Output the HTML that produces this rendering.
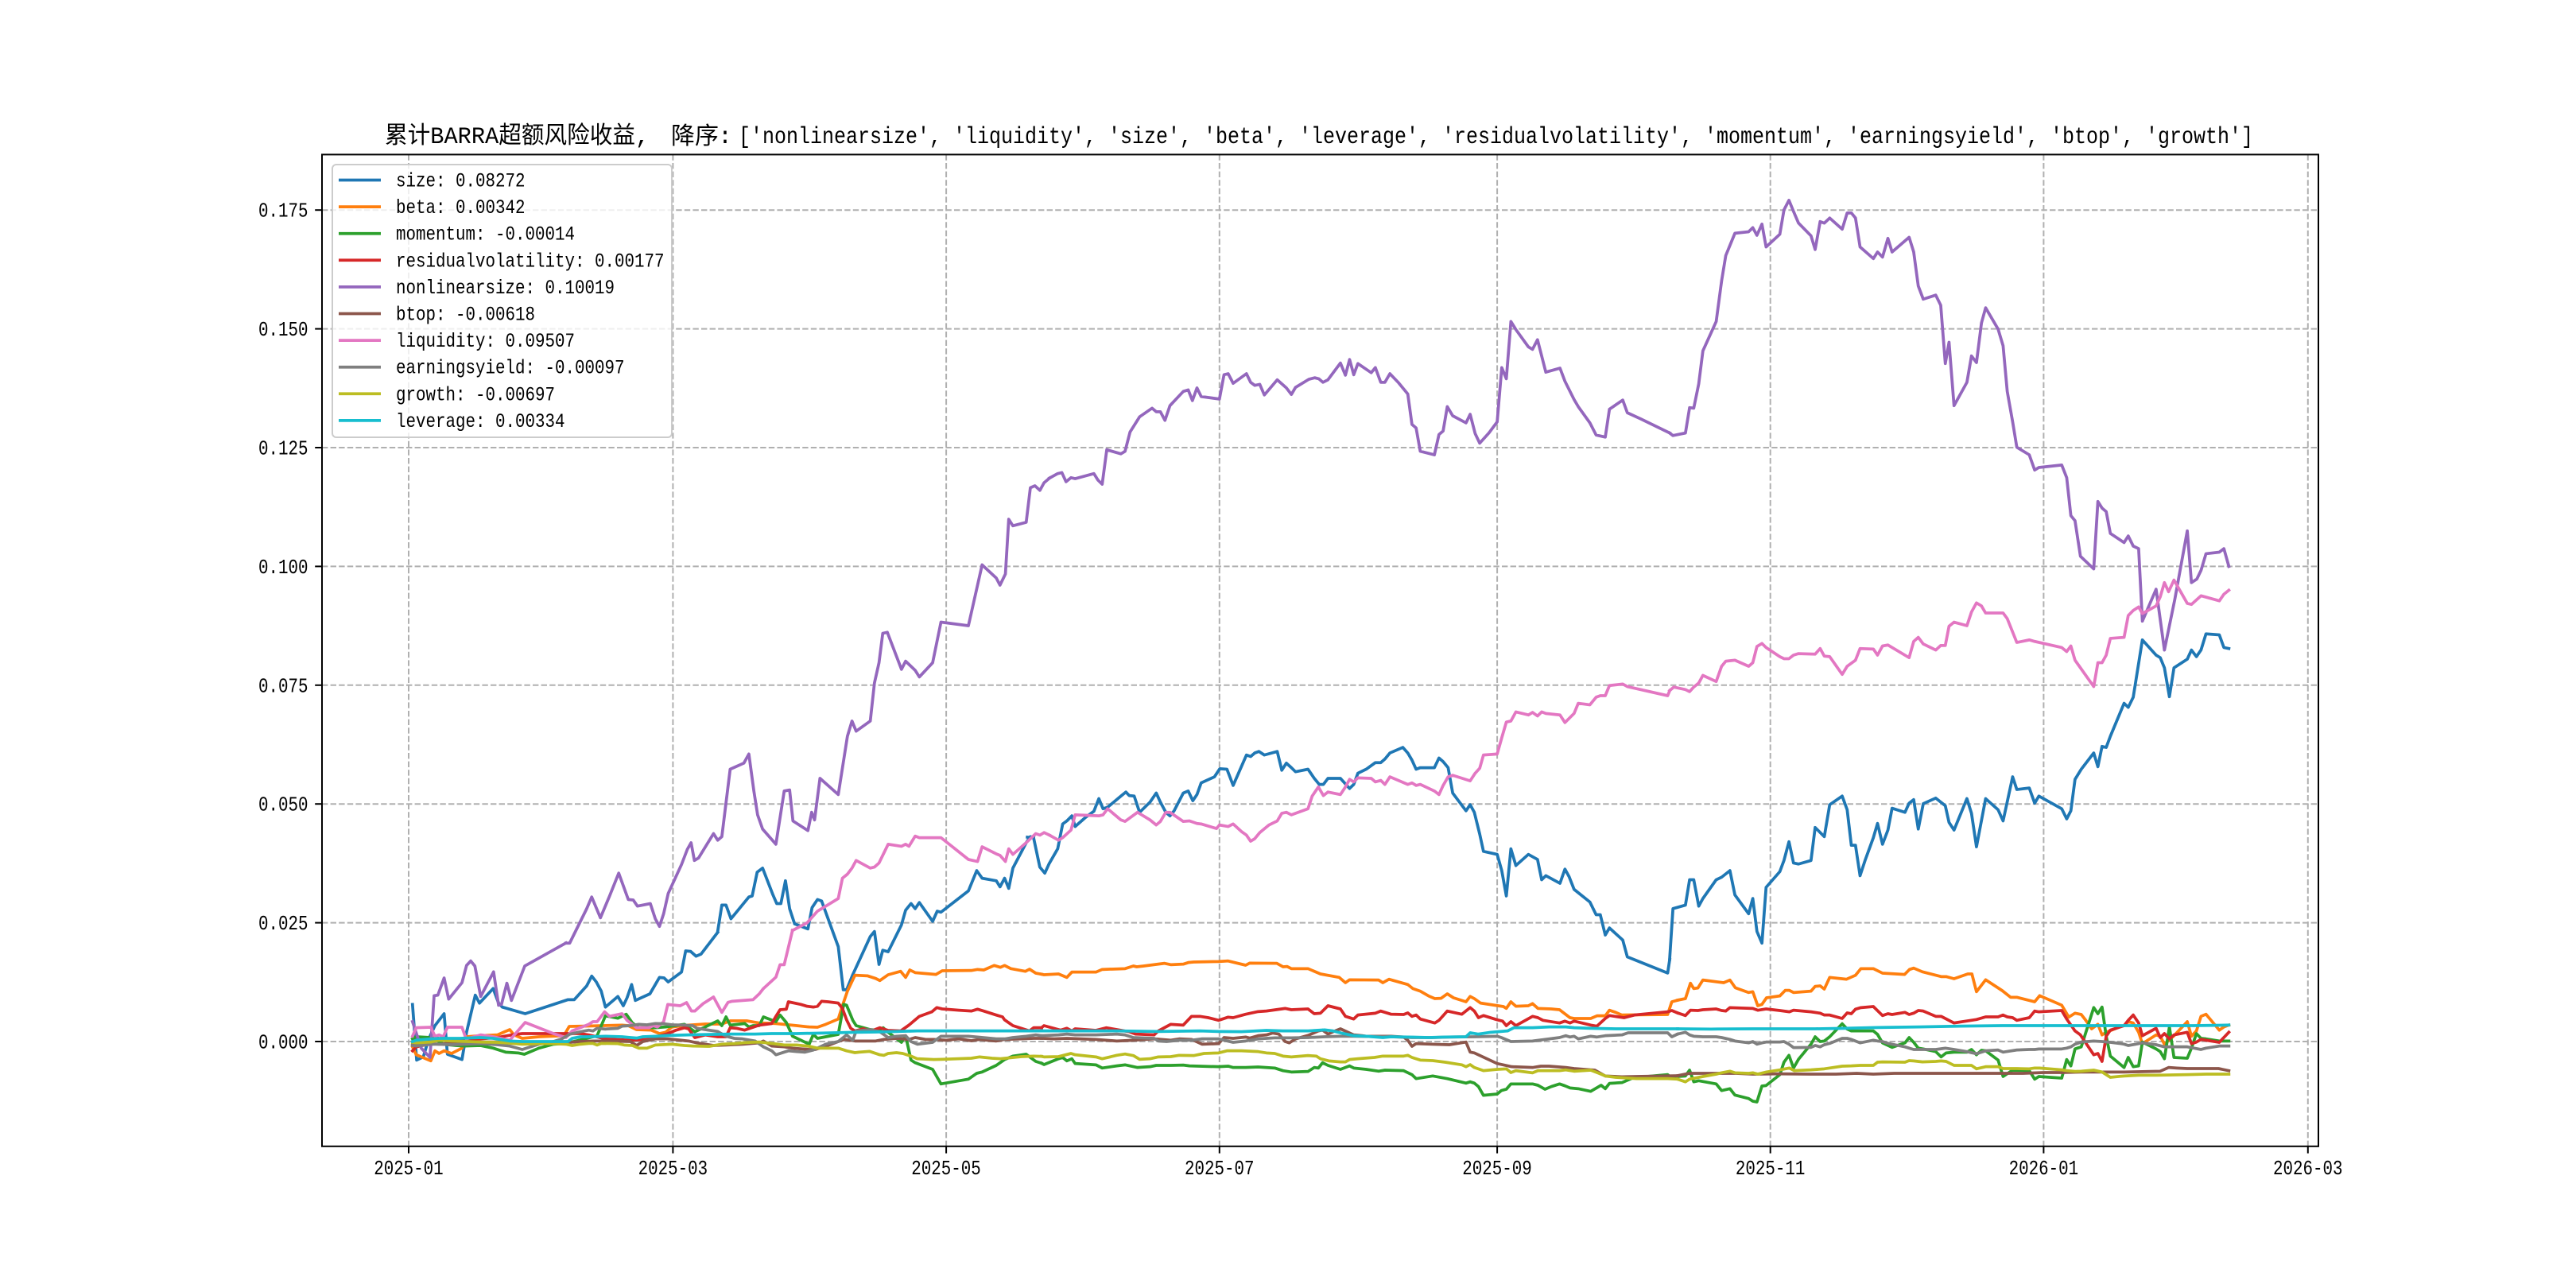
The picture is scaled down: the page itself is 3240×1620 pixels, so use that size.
<!DOCTYPE html>
<html><head><meta charset="utf-8">
<style>
html,body{margin:0;padding:0;background:#fff;}
svg{display:block;}
polyline{fill:none;stroke-width:3.75;vector-effect:non-scaling-stroke;stroke-linejoin:round;stroke-linecap:square;}
.t{font-family:"Liberation Mono","Noto Sans CJK SC",monospace;fill:#000;}
.grid line{stroke:#b0b0b0;stroke-width:2;stroke-dasharray:7.4 3.2;}
</style></head>
<body>
<svg width="3240" height="1620" viewBox="0 0 3240 1620" xmlns="http://www.w3.org/2000/svg">
<rect x="0" y="0" width="3240" height="1620" fill="#fff"/>
<defs><clipPath id="ax"><rect x="405" y="194.4" width="2511" height="1247.4"/></clipPath></defs>

<!-- grid -->
<g class="grid">
<line x1="514" y1="194.4" x2="514" y2="1441.8"/>
<line x1="846.4" y1="194.4" x2="846.4" y2="1441.8"/>
<line x1="1190.1" y1="194.4" x2="1190.1" y2="1441.8"/>
<line x1="1533.8" y1="194.4" x2="1533.8" y2="1441.8"/>
<line x1="1883.1" y1="194.4" x2="1883.1" y2="1441.8"/>
<line x1="2226.7" y1="194.4" x2="2226.7" y2="1441.8"/>
<line x1="2570.4" y1="194.4" x2="2570.4" y2="1441.8"/>
<line x1="2902.8" y1="194.4" x2="2902.8" y2="1441.8"/>
<line x1="405" y1="1310" x2="2916" y2="1310"/>
<line x1="405" y1="1160.6" x2="2916" y2="1160.6"/>
<line x1="405" y1="1011.2" x2="2916" y2="1011.2"/>
<line x1="405" y1="861.8" x2="2916" y2="861.8"/>
<line x1="405" y1="712.4" x2="2916" y2="712.4"/>
<line x1="405" y1="563" x2="2916" y2="563"/>
<line x1="405" y1="413.6" x2="2916" y2="413.6"/>
<line x1="405" y1="264.2" x2="2916" y2="264.2"/>
</g>

<g clip-path="url(#ax)">
<!-- size (blue) -->
<g stroke="#1f77b4">
<polyline transform="matrix(0.52296 0 0 0.33333 500 1150)" points="36,340 46,550 62,538 75,470 90,420 112,375 120,528 155,548 166,445 187,305 197,335 230,280 243,335 252,350 307,375 410,322 425,322 455,270 467,233 478,255 490,290 500,350 530,310 543,345 552,315 563,265 572,325 607,300 630,238 641,240 651,255 683,218 693,138 705,140 718,158 730,150 770,68"/>
<polyline transform="matrix(0.52296 0 0 0.63776 500 250)" points="770,1445 780,1393 790,1393 802,1420 835,1387 845,1377 853,1375 865,1328 878,1320 903,1373 912,1390 922,1390 933,1345 943,1400 955,1430 987,1440 997,1398 1010,1382 1020,1385 1060,1475 1072,1560 1080,1560 1095,1530 1137,1455 1147,1445 1158,1510 1167,1482 1180,1485 1212,1432 1222,1403 1235,1390 1245,1400 1255,1388 1287,1425 1298,1405 1307,1407 1373,1365 1393,1325 1406,1340 1440,1345 1449,1357 1460,1340 1470,1360 1480,1320 1512,1270 1522,1258 1530,1259"/>
<polyline transform="matrix(0.52296 0 0 0.63776 1300 250)" points="-15,1259 0,1260 15,1318 27,1330 37,1312 58,1282 70,1233 80,1227 92,1217 100,1238 125,1220 145,1208 157,1183 167,1203 178,1200 210,1178 222,1170 230,1177 242,1178 255,1210 280,1190 295,1172 305,1190 318,1210 328,1217 338,1207 360,1172 372,1168 383,1187 393,1175 403,1152 435,1140 448,1124 465,1125 480,1157 512,1097 522,1100 532,1093 542,1090 555,1097 586,1090 597,1127 608,1113 620,1122 630,1130 660,1125 675,1143 687,1155 697,1155 708,1143 738,1143 760,1163 770,1155 780,1133 800,1125 822,1112 835,1112 845,1105 857,1093 888,1082 900,1093 910,1107 920,1125 930,1122 964,1122 975,1103 985,1110 997,1122 1008,1172 1040,1207 1050,1195 1060,1210 1073,1253 1082,1287 1115,1293 1126,1325 1137,1375 1148,1282 1160,1315 1190,1293 1212,1303 1222,1343 1232,1335 1266,1350 1278,1322 1288,1337 1300,1362 1338,1387 1353,1412 1363,1412 1375,1452 1385,1438 1417,1462 1428,1495 1525,1527 1530,1500"/>
<polyline transform="matrix(0.52296 0 0 0.63776 2100 250)" points="0,1500 8,1400 38,1393 48,1343 58,1343 70,1395 80,1380 112,1343 125,1338 145,1325 157,1373 190,1410 200,1380 210,1445 222,1468 232,1358 265,1327 275,1305 287,1268 298,1310 310,1312 340,1305 350,1240 372,1258 385,1195 415,1178 427,1205 437,1275 447,1275 458,1335 470,1305 490,1260 500,1232 512,1273 525,1245 535,1202 566,1210 576,1192 587,1185 598,1243 610,1193 640,1182 663,1197 672,1230 684,1245 715,1183 726,1212 738,1278 760,1183 790,1205 802,1227 825,1140 835,1165 865,1162 878,1192 888,1178 943,1203 955,1223 965,1207 975,1145 990,1125 1020,1093 1030,1120 1040,1080 1050,1082 1060,1060 1093,995 1103,1003 1115,983 1137,870 1170,900 1180,905 1190,925 1202,982 1213,925 1245,908 1255,890 1267,903 1278,890 1290,858 1322,860 1333,885 1345,887"/>
</g>
<!-- beta (orange) -->
<g stroke="#ff7f0e">
<polyline transform="matrix(0.52296 0 0 0.33333 500 1150)" points="36,500 45,530 80,553 90,515 100,525 112,515 130,525 155,505 166,462 200,458 240,455 270,435 280,455 300,468 340,462 400,458 413,423 450,422 540,418 555,420 575,435 610,437 630,450 645,445 660,425 700,418 740,414 780,414 800,402 840,402 870,410 910,412 960,420 990,425 1010,426 1030,415 1060,395 1070,345 1082,290 1100,230 1130,232 1150,242 1160,250 1180,228 1210,215 1222,238 1232,210 1245,220 1295,227 1310,213 1380,212 1395,208 1410,210 1435,193 1450,200 1460,193 1475,205 1510,215 1520,207 1535,222 1549,226"/>
<polyline transform="matrix(0.52296 0 0 0.33333 1300 1150)" points="19,226 25,228 60,225 80,238 92,218 150,218 165,208 220,205 240,195 248,198 265,195 300,188 315,185 330,190 360,188 372,182 385,180 445,178 468,176 510,192 520,184 585,185 600,198 610,197 620,205 660,205 690,225 735,238 750,258 760,247 830,248 840,258 855,245 900,265 912,280 930,290 950,308 965,318 980,317 995,300 1010,315 1040,330 1050,310 1060,318 1075,335 1130,348 1137,355 1148,330 1160,347 1190,345 1200,337 1213,355 1245,357 1265,360 1290,390 1300,393 1340,393 1355,383 1375,383 1385,362 1400,370 1415,380 1525,378 1535,330 1549,324"/>
<polyline transform="matrix(0.52296 0 0 0.33333 2100 1150)" points="19,324 38,318 50,260 58,280 68,278 80,248 130,258 145,248 158,277 190,295 200,292 212,345 222,340 233,315 265,308 278,287 288,287 298,295 340,290 350,272 362,270 372,282 385,238 425,245 447,230 460,205 490,205 512,222 565,227 577,208 587,203 608,217 653,235 665,235 684,243 717,225 727,225 738,292 760,247 800,288 820,313 835,313 865,325 878,330 890,307 943,343 960,388 975,373 990,378 1000,398 1015,432 1030,415 1040,455 1050,445 1082,425 1093,420 1103,405 1115,410 1128,445 1137,488 1170,455 1180,460 1190,490 1213,458 1245,405 1255,460 1267,440 1278,385 1290,377 1322,437 1333,425 1345,418"/>
</g>
<!-- momentum (green) -->
<g stroke="#2ca02c">
<polyline transform="matrix(0.52296 0 0 0.33333 500 1150)" points="36,470 45,462 80,465 90,475 100,480 110,490 140,495 160,497 200,495 230,505 260,520 290,523 305,528 340,505 375,490 405,487 450,470 480,458 500,383 530,392 550,377 565,410 580,428 620,428 645,425 690,415 715,443 740,425 770,402 780,420 790,387 800,418 835,412 845,425 855,420 870,420 880,387 910,405 920,380 935,408 950,460 990,490 1000,453 1010,468 1060,453 1073,340 1080,343 1095,400 1103,420 1137,435 1158,438 1168,428 1180,445 1212,483 1222,458 1235,550 1245,560 1287,585 1307,640 1373,622 1393,600 1406,595 1440,570 1460,548 1480,535 1512,528 1522,540 1535,555 1549,562"/>
<polyline transform="matrix(0.52296 0 0 0.33333 1300 1150)" points="19,562 25,567 60,545 70,540 80,553 92,545 100,563 150,568 165,580 200,572 220,568 250,578 280,575 295,570 330,570 360,569 375,572 445,575 468,573 480,578 510,578 540,576 580,580 600,590 620,595 660,593 675,578 685,580 695,560 708,570 738,585 760,572 770,580 800,585 830,592 845,588 890,590 910,605 920,620 960,610 995,620 1040,637 1050,632 1060,637 1070,650 1082,683 1115,678 1125,665 1137,660 1148,640 1200,640 1213,645 1230,660 1245,650 1265,640 1278,647 1290,655 1310,658 1340,668 1365,645 1375,658 1385,638 1415,635 1440,618 1455,615 1525,605 1535,618 1549,612"/>
<polyline transform="matrix(0.52296 0 0 0.33333 2100 1150)" points="19,612 38,610 48,588 58,632 70,628 112,640 125,665 145,658 157,682 190,695 200,705 210,708 222,648 232,646 265,605 275,558 287,532 298,580 310,547 340,490 350,462 362,480 372,478 385,462 415,413 427,433 437,440 458,440 490,440 500,453 512,485 535,502 566,485 576,465 587,483 598,505 610,508 640,518 653,538 665,523 684,520 715,520 726,510 738,530 750,513 760,515 790,550 802,612 825,588 865,590 878,622 888,612 943,618 955,548 965,572 975,508 990,500 1020,352 1030,375 1040,350 1050,460 1060,535 1093,578 1103,540 1115,575 1128,572 1137,482 1170,508 1180,518 1190,545 1202,425 1213,540 1245,543 1255,505 1267,450 1278,468 1290,470 1322,478 1345,478"/>
</g>
<!-- residualvolatility (red) -->
<g stroke="#d62728">
<polyline transform="matrix(0.52296 0 0 0.33333 500 1150)" points="36,515 45,500 80,488 90,460 100,470 120,478 140,475 200,470 240,465 275,455 300,450 420,450 440,450 460,455 500,470 560,475 600,472 650,450 670,437 690,428 700,432 715,465 740,455 770,462 790,462 800,428 815,430 835,437 870,418 900,412 910,385 920,360 935,358 940,330 970,340 985,347 1000,350 1010,347 1020,328 1035,330 1060,335 1070,355 1080,398 1090,430 1100,440 1120,432 1140,440 1160,428 1180,438 1210,440 1230,418 1255,385 1285,368 1297,352 1310,357 1350,362 1380,365 1395,358 1410,365 1440,380 1455,387 1460,398 1480,420 1520,440 1530,428 1549,428"/>
<polyline transform="matrix(0.52296 0 0 0.33333 1300 1150)" points="19,428 25,420 65,437 80,430 92,440 100,432 150,438 175,428 200,435 230,443 245,452 290,455 300,440 330,415 360,418 380,385 400,385 420,390 445,400 468,388 480,390 510,377 540,367 560,365 605,355 620,360 660,357 675,375 690,373 708,345 738,357 750,385 770,395 780,380 822,373 835,365 860,377 890,378 900,372 910,385 920,380 930,395 965,410 975,400 995,365 1030,377 1050,352 1060,365 1070,390 1082,382 1115,398 1128,403 1137,420 1148,405 1160,420 1200,385 1213,390 1225,400 1265,410 1278,403 1290,410 1300,403 1340,418 1355,422 1375,393 1385,382 1420,390 1445,380 1525,368 1535,363 1549,372"/>
<polyline transform="matrix(0.52296 0 0 0.33333 2100 1150)" points="19,372 38,382 50,362 68,363 80,360 112,357 125,363 135,365 145,352 200,355 212,362 232,357 265,363 288,368 298,362 340,368 362,373 372,380 385,380 415,393 427,372 437,375 447,358 460,352 490,348 512,382 525,375 535,378 566,370 576,378 587,373 598,363 610,365 640,385 653,385 684,410 738,397 760,387 790,387 802,380 812,387 825,390 835,400 865,390 878,365 888,368 943,363 955,395 975,440 988,455 1020,530 1030,525 1040,555 1050,460 1060,437 1093,420 1103,400 1115,380 1128,410 1137,458 1170,430 1180,465 1190,450 1202,470 1213,455 1245,445 1255,488 1267,482 1278,472 1322,483 1345,445"/>
</g>
<!-- nonlinearsize (purple) -->
<g stroke="#9467bd">
<polyline transform="matrix(0.52296 0 0 0.33333 500 1150)" points="36,405 57,505 78,540 88,307 97,305 112,240 123,320 155,258 166,193 176,176 186,195 200,310 231,217 243,343 250,340 263,260 274,325 306,195 405,108"/>
<polyline transform="matrix(0.52296 0 0 0.63776 500 250)" points="405,1468 414,1468 455,1400 467,1377 488,1418 510,1375 532,1330 555,1382 567,1383 577,1395 608,1390 620,1420 630,1435 640,1410 651,1370 683,1313 697,1283 706,1270 714,1305 724,1300 760,1252 770,1265 780,1258 800,1125 833,1113 845,1095 857,1168 866,1215 878,1243 910,1273 930,1168 943,1166 951,1227 987,1246 996,1210 1003,1225 1016,1143 1060,1175 1082,1060 1093,1030 1103,1050 1137,1030 1147,955 1158,915 1167,857 1178,855 1212,928 1222,912 1245,930 1255,943 1287,915 1307,835 1373,842 1406,722 1440,748 1449,762 1462,740 1470,632 1480,645 1512,638 1522,570 1533,566 1545,575 1555,560 1568,551"/>
<polyline transform="matrix(0.52296 0 0 0.63776 1300 250)" points="38,551 58,542 68,540 78,558 90,550 100,552 145,542 155,555 165,563 176,495 210,503 220,498 232,460 255,430 285,413 295,420 305,420 316,437 328,408 360,380 372,377 382,398 393,373 403,390 447,395 458,347 468,345 480,364 512,345 522,362 532,368 544,366 555,387 586,357 608,373 620,386 630,372 662,356 676,353 686,355 696,362 708,357 738,324 750,348 760,317 770,347 780,325 812,343 822,333 835,362 845,362 857,345 878,363 900,385 910,445 920,452 930,498 964,505 975,465 985,458 995,410 1008,428 1040,442 1050,425 1062,463 1073,482 1095,462 1115,440 1126,333 1137,355 1148,242 1160,258 1190,292 1200,297 1212,278 1232,342 1266,334 1278,360 1300,396 1310,410 1338,442 1353,466 1375,470 1385,415 1417,397 1428,422 1460,434 1530,462"/>
<polyline transform="matrix(0.52296 0 0 0.63776 2100 250)" points="0,462 8,467 38,462 48,412 58,413 70,365 80,300 112,242 125,162 135,112 157,68 190,65 200,57 210,72 222,50 232,95 265,70 275,22 287,3 298,25 310,48 340,73 350,100 362,45 372,48 385,38 415,60 427,28 437,28 447,38 458,95 490,118 500,105 512,115 525,78 535,105 576,76 587,105 598,172 610,198 640,190 652,210 663,325 672,283 684,408 715,362 726,310 738,323 750,245 760,215 790,257 802,290 812,380 825,440 835,490 865,505 878,535 888,530 943,525 955,550 965,625 975,635 988,705 1020,730 1030,597 1040,610 1050,617 1060,660 1093,678 1103,665 1115,685 1128,690 1137,833 1170,770 1190,890 1215,790 1245,655 1255,757 1268,750 1278,733 1290,700 1322,697 1333,690 1345,725"/>
</g>
<!-- btop (brown) -->
<g stroke="#8c564b">
<polyline transform="matrix(0.52296 0 0 0.33333 500 1150)" points="36,490 45,495 80,488 100,490 120,488 140,488 200,482 240,482 300,482 400,485 440,480 470,478 500,478 560,480 575,495 590,480 620,470 650,470 700,478 720,485 760,495 790,493 830,490 870,485 880,478 900,497 930,500 950,505 990,510 1005,510 1040,492 1060,480 1075,472 1100,478 1150,478 1170,472 1200,468 1230,472 1245,465 1270,472 1290,472 1320,475 1350,470 1380,477 1400,472 1420,475 1440,478 1460,472 1500,470 1530,468 1549,468"/>
<polyline transform="matrix(0.52296 0 0 0.33333 1300 1150)" points="19,468 50,470 80,468 150,472 200,478 240,475 290,470 330,475 350,470 380,472 405,490 445,488 458,465 480,468 510,463 520,467 540,458 560,455 575,448 590,452 605,480 615,485 630,470 660,457 685,440 695,437 708,452 722,442 738,432 770,455 790,458 800,460 860,460 890,463 900,475 910,498 920,488 960,490 1000,492 1040,482 1050,520 1060,523 1115,563 1150,575 1200,578 1220,573 1240,573 1280,578 1300,582 1350,588 1375,610 1415,613 1450,612 1549,609"/>
<polyline transform="matrix(0.52296 0 0 0.33333 2100 1150)" points="19,609 38,603 48,600 80,600 120,600 160,600 200,603 260,602 340,603 400,603 450,600 490,603 540,600 600,600 660,600 738,600 800,600 850,600 900,597 943,597 990,595 1040,595 1093,595 1180,592 1200,578 1220,580 1245,582 1270,582 1320,582 1345,590"/>
</g>
<!-- liquidity (pink) -->
<g stroke="#e377c2">
<polyline transform="matrix(0.52296 0 0 0.33333 500 1150)" points="36,460 45,428 80,426 90,460 100,455 110,462 120,426 155,426 165,470 200,455 230,462 270,475 307,408 375,450 405,465 420,440 460,415 470,405 480,405 498,368 510,385 540,375 552,400 575,428 605,428 615,420 625,425 640,405 650,340 680,345 695,333 707,365 715,365 735,337 760,312 780,370 795,332 805,328 830,325 855,322 870,300 880,280 910,237 920,190 930,190 950,60"/>
<polyline transform="matrix(0.52296 0 0 0.63776 500 250)" points="950,1443 985,1428 1010,1405 1020,1400 1060,1380 1070,1340 1082,1332 1093,1320 1103,1305 1137,1320 1147,1318 1158,1310 1180,1273 1212,1277 1222,1273 1230,1277 1245,1257 1255,1260 1307,1260 1373,1303 1395,1307 1406,1278 1440,1292 1449,1295 1462,1307 1470,1282 1480,1293 1512,1270 1535,1252 1545,1255 1555,1250 1568,1255"/>
<polyline transform="matrix(0.52296 0 0 0.63776 1300 250)" points="38,1255 60,1265 70,1260 90,1245 100,1215 157,1217 167,1215 178,1203 210,1225 220,1228 250,1210 280,1225 295,1235 305,1228 318,1210 328,1210 360,1228 375,1227 393,1232 403,1233 440,1242 447,1235 468,1238 480,1233 500,1248 512,1255 522,1267 532,1262 544,1250 566,1235 586,1227 597,1212 608,1210 620,1215 660,1203 670,1178 685,1160 697,1177 708,1170 738,1175 750,1160 760,1145 770,1150 780,1142 812,1143 822,1150 835,1147 845,1155 857,1140 900,1155 910,1152 920,1157 930,1155 964,1168 975,1175 985,1157 997,1140 1008,1137 1050,1148 1062,1133 1073,1123 1082,1097 1115,1095 1126,1063 1137,1032 1148,1030 1160,1012 1190,1018 1200,1013 1212,1020 1222,1012 1232,1015 1266,1018 1278,1033 1300,1015 1310,995 1338,998 1353,983 1363,980 1375,980 1385,960 1417,957 1428,962 1525,980 1530,970"/>
<polyline transform="matrix(0.52296 0 0 0.63776 2100 250)" points="0,970 10,963 38,968 48,972 58,963 70,955 80,940 112,952 125,922 135,912 157,910 190,922 200,915 210,883 222,877 232,885 265,903 275,907 287,907 298,900 310,897 350,898 362,887 372,902 385,903 415,938 427,922 447,910 458,887 490,888 500,900 512,882 525,880 576,905 587,873 598,865 610,878 640,890 652,881 663,881 672,843 684,835 715,842 726,815 738,797 750,803 760,817 802,817 812,828 835,875 865,870 878,873 943,885 955,893 965,882 975,910 1020,962 1030,915 1040,915 1050,900 1060,867 1093,865 1103,822 1115,812 1128,805 1137,818 1170,803 1180,785 1190,757 1200,775 1213,752 1245,798 1255,800 1278,783 1322,793 1333,780 1345,772"/>
</g>
<!-- earningsyield (gray) -->
<g stroke="#7f7f7f">
<polyline transform="matrix(0.52296 0 0 0.33333 500 1150)" points="36,495 45,497 80,490 100,490 130,492 160,490 200,488 240,492 270,497 300,510 340,490 375,480 395,470 415,452 440,443 460,437 470,440 480,430 500,433 530,430 540,422 560,420 580,415 600,417 620,412 640,413 660,417 690,418 710,420 720,430 740,435 770,442 790,460 810,468 830,470 860,478 880,500 900,515 910,530 930,520 940,515 960,518 980,520 1000,512 1010,505 1030,490 1060,480 1080,455 1095,475 1103,440 1137,435 1160,443 1180,465 1200,460 1222,458 1235,480 1250,490 1287,483 1307,460 1373,460 1395,463 1440,470 1460,470 1480,465 1512,460 1535,455 1549,458"/>
<polyline transform="matrix(0.52296 0 0 0.33333 1300 1150)" points="19,458 60,455 80,452 100,455 150,455 200,452 220,455 240,465 290,468 300,478 320,480 350,475 380,475 405,470 445,470 480,483 510,478 540,470 580,466 620,466 660,465 700,462 738,460 770,460 860,462 910,465 960,465 1000,463 1060,462 1115,460 1125,465 1148,480 1200,478 1230,472 1265,465 1280,458 1290,463 1300,460 1310,470 1340,460 1355,463 1375,458 1415,455 1430,447 1525,447 1535,462 1549,452"/>
<polyline transform="matrix(0.52296 0 0 0.33333 2100 1150)" points="19,452 38,445 48,455 58,460 80,462 112,462 125,465 145,472 157,478 190,485 200,480 210,490 222,485 232,482 265,482 275,480 287,490 298,503 340,502 350,495 362,500 372,492 385,487 415,468 427,468 437,472 458,485 490,475 500,478 512,480 525,487 566,500 576,505 587,510 640,510 663,505 684,510 715,518 726,522 738,526 760,515 790,512 802,520 835,512 865,510 878,510 888,508 943,508 955,505 965,500 975,490 990,482 1020,478 1040,480 1060,483 1082,487 1093,490 1103,495 1128,488 1137,485 1170,492 1190,500 1213,500 1245,500 1255,503 1278,510 1290,505 1322,497 1345,497"/>
</g>
<!-- growth (olive) -->
<g stroke="#bcbd22">
<polyline transform="matrix(0.52296 0 0 0.33333 500 1150)" points="36,483 45,485 80,482 100,475 130,478 170,480 200,482 240,483 270,486 300,490 340,488 375,488 405,490 420,495 440,490 460,487 470,487 480,493 490,487 530,488 545,493 565,495 580,505 600,505 620,493 660,490 690,495 710,497 750,498 780,490 810,488 830,485 850,483 870,482 900,487 930,493 960,493 990,498 1010,505 1060,505 1080,515 1100,522 1110,520 1135,517 1160,530 1170,532 1180,525 1200,522 1215,525 1235,535 1250,545 1290,548 1310,547 1380,543 1400,538 1430,543 1450,545 1500,537 1530,535 1549,536"/>
<polyline transform="matrix(0.52296 0 0 0.33333 1300 1150)" points="19,536 25,538 60,537 90,525 100,530 150,538 165,545 200,532 220,527 240,533 255,547 280,545 300,538 330,537 350,532 385,533 410,525 445,523 465,515 500,515 540,518 560,523 580,525 600,535 620,538 660,533 680,535 690,545 710,553 738,557 750,557 760,548 780,545 820,540 840,535 890,535 900,532 910,540 930,550 960,552 990,558 1030,568 1040,575 1050,567 1060,578 1082,590 1115,585 1137,583 1148,597 1160,590 1200,598 1213,590 1265,590 1280,587 1300,592 1340,588 1360,600 1375,610 1400,615 1450,620 1525,620 1549,622"/>
<polyline transform="matrix(0.52296 0 0 0.33333 2100 1150)" points="19,622 38,632 48,622 80,612 112,603 125,598 145,592 157,598 190,600 200,598 212,603 233,595 265,587 288,580 300,590 340,587 372,583 385,580 415,573 437,572 458,570 490,570 500,558 512,557 566,558 576,552 587,553 608,557 640,555 653,553 665,555 684,570 715,570 726,570 738,583 760,575 790,575 802,582 835,582 865,583 878,580 890,580 943,587 955,590 975,593 990,592 1020,588 1040,595 1060,615 1093,610 1128,607 1170,607 1245,605 1290,603 1345,603"/>
</g>
<!-- leverage (cyan) -->
<g stroke="#17becf">
<polyline transform="matrix(0.52296 0 0 0.33333 500 1150)" points="36,480 45,475 80,470 100,468 150,468 200,465 230,468 270,478 300,480 340,480 375,480 410,480 420,468 440,462 460,462 500,460 540,462 560,465 575,467 590,462 620,460 650,457 700,455 760,453 800,452 860,452 900,450 960,450 1020,448 1100,445 1150,444 1200,442 1250,440 1300,440 1400,440 1549,440"/>
<polyline transform="matrix(0.52296 0 0 0.33333 1300 1150)" points="19,440 100,440 200,440 300,442 400,440 445,442 500,443 560,438 600,440 660,440 700,436 720,440 740,448 770,458 800,460 840,465 860,462 900,463 950,465 990,463 1040,462 1050,447 1070,452 1100,445 1140,440 1155,428 1200,428 1240,425 1280,425 1300,428 1340,430 1400,432 1450,432 1549,432"/>
<polyline transform="matrix(0.52296 0 0 0.33333 2100 1150)" points="19,432 100,433 200,432 280,432 350,432 420,430 500,427 600,425 700,422 800,420 900,420 1000,420 1100,420 1200,420 1260,420 1345,418"/>
</g>
</g>

<!-- spines -->
<rect x="405" y="194.4" width="2511" height="1247.4" fill="none" stroke="#000" stroke-width="2"/>

<!-- ticks -->
<g stroke="#000" stroke-width="2">
<line x1="514" y1="1441.8" x2="514" y2="1450.6"/>
<line x1="846.4" y1="1441.8" x2="846.4" y2="1450.6"/>
<line x1="1190.1" y1="1441.8" x2="1190.1" y2="1450.6"/>
<line x1="1533.8" y1="1441.8" x2="1533.8" y2="1450.6"/>
<line x1="1883.1" y1="1441.8" x2="1883.1" y2="1450.6"/>
<line x1="2226.7" y1="1441.8" x2="2226.7" y2="1450.6"/>
<line x1="2570.4" y1="1441.8" x2="2570.4" y2="1450.6"/>
<line x1="2902.8" y1="1441.8" x2="2902.8" y2="1450.6"/>
<line x1="396.2" y1="1310" x2="405" y2="1310"/>
<line x1="396.2" y1="1160.6" x2="405" y2="1160.6"/>
<line x1="396.2" y1="1011.2" x2="405" y2="1011.2"/>
<line x1="396.2" y1="861.8" x2="405" y2="861.8"/>
<line x1="396.2" y1="712.4" x2="405" y2="712.4"/>
<line x1="396.2" y1="563" x2="405" y2="563"/>
<line x1="396.2" y1="413.6" x2="405" y2="413.6"/>
<line x1="396.2" y1="264.2" x2="405" y2="264.2"/>
</g>

<!-- tick labels -->
<g class="t" font-size="25.5">
<text x="470.2" y="1477" textLength="87.5" lengthAdjust="spacingAndGlyphs">2025-01</text>
<text x="802.6" y="1477" textLength="87.5" lengthAdjust="spacingAndGlyphs">2025-03</text>
<text x="1146.3" y="1477" textLength="87.5" lengthAdjust="spacingAndGlyphs">2025-05</text>
<text x="1490" y="1477" textLength="87.5" lengthAdjust="spacingAndGlyphs">2025-07</text>
<text x="1839.3" y="1477" textLength="87.5" lengthAdjust="spacingAndGlyphs">2025-09</text>
<text x="2182.9" y="1477" textLength="87.5" lengthAdjust="spacingAndGlyphs">2025-11</text>
<text x="2526.6" y="1477" textLength="87.5" lengthAdjust="spacingAndGlyphs">2026-01</text>
<text x="2859" y="1477" textLength="87.5" lengthAdjust="spacingAndGlyphs">2026-03</text>
<text x="325" y="1318.5" textLength="62.5" lengthAdjust="spacingAndGlyphs">0.000</text>
<text x="325" y="1169.1" textLength="62.5" lengthAdjust="spacingAndGlyphs">0.025</text>
<text x="325" y="1019.7" textLength="62.5" lengthAdjust="spacingAndGlyphs">0.050</text>
<text x="325" y="870.3" textLength="62.5" lengthAdjust="spacingAndGlyphs">0.075</text>
<text x="325" y="720.9" textLength="62.5" lengthAdjust="spacingAndGlyphs">0.100</text>
<text x="325" y="571.5" textLength="62.5" lengthAdjust="spacingAndGlyphs">0.125</text>
<text x="325" y="422.1" textLength="62.5" lengthAdjust="spacingAndGlyphs">0.150</text>
<text x="325" y="272.7" textLength="62.5" lengthAdjust="spacingAndGlyphs">0.175</text>
</g>

<!-- title -->
<g class="t" font-size="30">
<text x="484" y="180" textLength="315" lengthAdjust="spacingAndGlyphs">累计BARRA超额风险收益</text>
<text x="799" y="180">,</text>
<text x="844" y="181" textLength="60" lengthAdjust="spacingAndGlyphs">降序</text>
<text x="903" y="180">:</text>
<text x="929" y="180" textLength="1905" lengthAdjust="spacingAndGlyphs">['nonlinearsize', 'liquidity', 'size', 'beta', 'leverage', 'residualvolatility', 'momentum', 'earningsyield', 'btop', 'growth']</text>
</g>

<!-- legend -->
<rect x="418" y="207" width="427" height="343" rx="5" ry="5" fill="#fff" fill-opacity="0.8" stroke="#cccccc" stroke-width="2"/>
<g stroke-width="3.75" stroke-linecap="butt">
<line x1="426" y1="226.5" x2="479" y2="226.5" stroke="#1f77b4"/>
<line x1="426" y1="260.1" x2="479" y2="260.1" stroke="#ff7f0e"/>
<line x1="426" y1="293.7" x2="479" y2="293.7" stroke="#2ca02c"/>
<line x1="426" y1="327.3" x2="479" y2="327.3" stroke="#d62728"/>
<line x1="426" y1="360.9" x2="479" y2="360.9" stroke="#9467bd"/>
<line x1="426" y1="394.5" x2="479" y2="394.5" stroke="#8c564b"/>
<line x1="426" y1="428.1" x2="479" y2="428.1" stroke="#e377c2"/>
<line x1="426" y1="461.7" x2="479" y2="461.7" stroke="#7f7f7f"/>
<line x1="426" y1="495.3" x2="479" y2="495.3" stroke="#bcbd22"/>
<line x1="426" y1="528.9" x2="479" y2="528.9" stroke="#17becf"/>
</g>
<g class="t" font-size="25">
<text x="498" y="234.5" textLength="162.5" lengthAdjust="spacingAndGlyphs">size: 0.08272</text>
<text x="498" y="268.1" textLength="162.5" lengthAdjust="spacingAndGlyphs">beta: 0.00342</text>
<text x="498" y="301.7" textLength="225" lengthAdjust="spacingAndGlyphs">momentum: -0.00014</text>
<text x="498" y="335.3" textLength="337.5" lengthAdjust="spacingAndGlyphs">residualvolatility: 0.00177</text>
<text x="498" y="368.9" textLength="275" lengthAdjust="spacingAndGlyphs">nonlinearsize: 0.10019</text>
<text x="498" y="402.5" textLength="175" lengthAdjust="spacingAndGlyphs">btop: -0.00618</text>
<text x="498" y="436.1" textLength="225" lengthAdjust="spacingAndGlyphs">liquidity: 0.09507</text>
<text x="498" y="469.7" textLength="287.5" lengthAdjust="spacingAndGlyphs">earningsyield: -0.00097</text>
<text x="498" y="503.3" textLength="200" lengthAdjust="spacingAndGlyphs">growth: -0.00697</text>
<text x="498" y="536.9" textLength="212.5" lengthAdjust="spacingAndGlyphs">leverage: 0.00334</text>
</g>
</svg>
</body></html>
